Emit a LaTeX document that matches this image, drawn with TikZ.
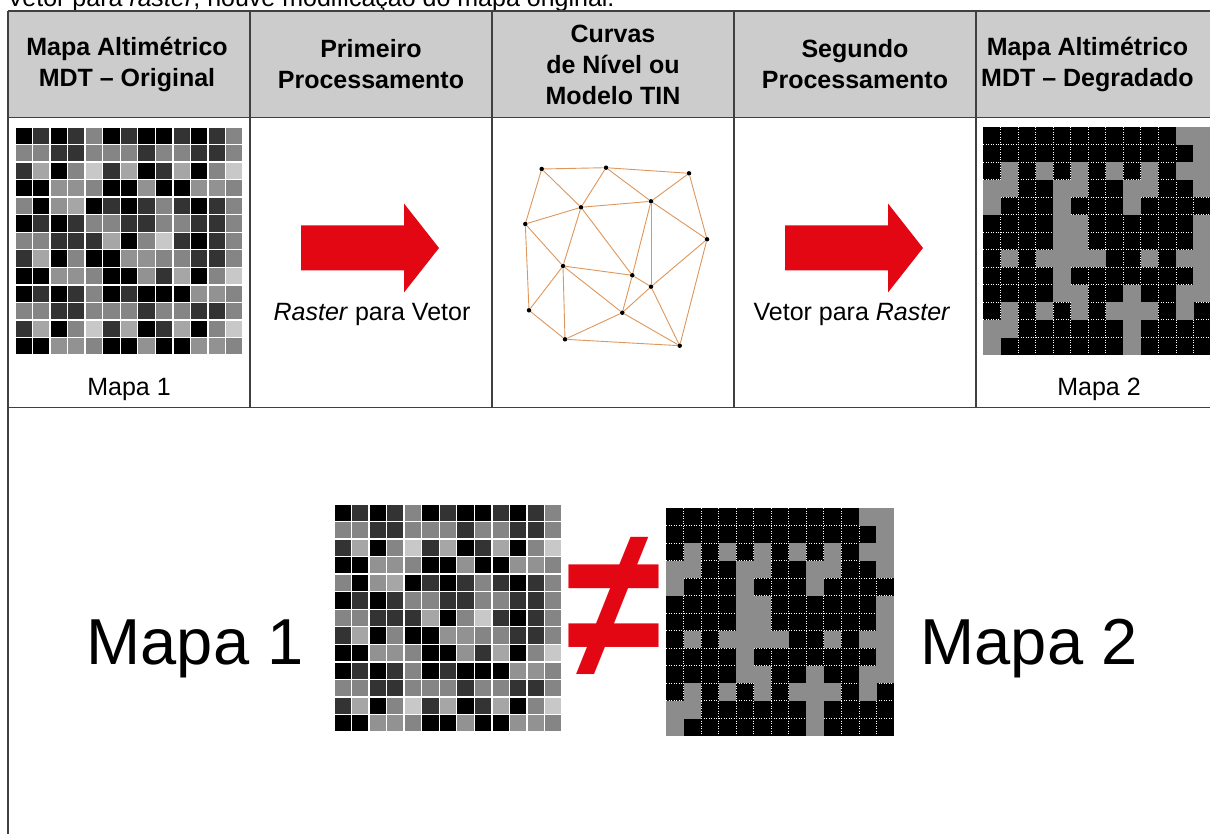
\documentclass[tikz,border=0pt]{standalone}
\usepackage{fontspec}
\setmainfont{Liberation Sans}

\definecolor{vermelho}{RGB}{227,6,19}
\definecolor{cabecalho}{RGB}{204,204,204}
\definecolor{borda}{RGB}{64,64,64}
\definecolor{aresta}{RGB}{222,150,90}
\definecolor{px0}{gray}{0}
\definecolor{px1}{RGB}{51,51,51}
\definecolor{px2}{RGB}{133,133,133}
\definecolor{px3}{RGB}{146,146,146}
\definecolor{px4}{RGB}{166,166,166}
\definecolor{px5}{RGB}{200,200,200}
\definecolor{pixcinza}{RGB}{140,140,140}

\tikzset{
  linha/.style={draw=borda, line width=1.6pt},
  cab/.style={align=center, font=\bfseries\fontsize{25}{31}\selectfont, inner sep=0pt},
  rot/.style={font=\fontsize{25}{30}\selectfont, inner sep=0pt, anchor=base},
  ponto/.style={circle, fill=black, inner sep=0pt, minimum size=4.5pt},
  tin/.style={draw=aresta, line width=0.9pt},
  seta/.style={fill=vermelho},
  pics/mapaorig/.style={code={
    \foreach \fila [count=\ii] in {{0,1,0,1,2,0,1,0,0,1,0,1,2},{2,2,1,1,2,2,2,1,2,2,1,1,2},
      {1,4,0,2,5,1,4,0,1,4,0,2,5},{0,0,3,3,2,0,0,3,0,0,3,3,2},{2,0,3,4,0,1,0,1,2,1,0,1,2},
      {0,1,0,1,2,2,1,1,2,2,1,1,2},{2,2,1,1,1,4,0,2,5,1,0,1,2},{1,4,0,2,0,0,3,3,2,2,1,1,2},
      {0,0,3,3,2,0,0,3,1,4,0,2,5},{0,1,0,1,2,0,1,0,0,0,3,3,2},{2,2,1,1,2,2,2,1,2,2,1,1,2},
      {1,4,0,2,5,1,4,0,1,4,0,2,5},{0,0,3,3,2,0,0,3,0,0,3,3,2}}
      \foreach \v [count=\jj] in \fila
        \fill[px\v] ({(\jj-1)*17.54+0.7},{(\ii-1)*17.54+0.7}) rectangle ++(16.14,16.14);
  }},
  pics/mapadeg/.style={code={
    \fill[black] (0,0) rectangle (228,228);
    \foreach \k in {1,...,12} {
      \draw[white, line width=0.9pt, dash pattern=on 1pt off 1.5pt] ({\k*17.54},0) -- ++(0,228);
      \draw[white, line width=0.9pt, dash pattern=on 1pt off 1.5pt] (0,{\k*17.54}) -- ++(228,0);
    }
    \foreach \fila [count=\ii] in {{0,0,0,0,0,0,0,0,0,0,0,1,1},{0,0,0,0,0,0,0,0,0,0,0,0,1},
      {0,1,0,1,0,1,0,1,0,1,0,1,1},{1,1,0,0,1,1,0,0,1,1,0,0,1},{1,0,0,0,1,0,0,0,1,0,0,0,0},
      {0,0,0,0,1,1,0,0,0,0,0,0,1},{0,0,0,0,1,1,0,0,0,0,0,0,1},{0,1,0,1,1,1,1,0,0,1,0,1,1},
      {0,0,0,0,1,0,0,0,0,0,0,0,1},{0,0,0,0,1,1,0,0,1,0,0,1,1},{0,1,0,1,0,1,0,1,1,1,0,1,0},
      {1,1,0,0,0,0,0,0,1,0,0,0,0},{1,0,0,0,0,0,0,0,1,0,0,0,0}}
      \foreach \v [count=\jj] in \fila {
        \ifnum\v=1 \fill[pixcinza] ({(\jj-1)*17.54},{(\ii-1)*17.54}) rectangle ++(17.6,17.6); \fi
      }
  }},
  pics/setagrande/.style={code={
    \fill[seta] (0,-22.5) -- (103,-22.5) -- (103,-44.5) -- (138,0) -- (103,44.5) -- (103,22.5) -- (0,22.5) -- cycle;
  }}
}

\begin{document}
\begin{tikzpicture}[x=1pt, y=-1pt]
  \useasboundingbox (0,0) rectangle (1210,834);
  \clip (0,0) rectangle (1210,834);

  \node[rot, anchor=base west] (txt) at (7,7) {Vetor para \textit{raster}, houve modificação do mapa original.};

  % tabela
  \fill[cabecalho] (8,11) rectangle (1220,117.5);
  \draw[linha] (8,11) -- (1220,11);
  \draw[linha] (8,117.5) -- (1220,117.5);
  \draw[linha] (8,407.5) -- (1220,407.5);
  \draw[linha] (8,11) -- (8,840);
  \foreach \x in {250,492,734,976}
    \draw[linha] (\x,11) -- (\x,407.5);

  \node[cab] (h1) at (127,64.5) {Mapa Altimétrico\\MDT – Original};
  \node[cab] (h2) at (371,64.5) {Primeiro\\Processamento};
  \node[cab] (h3) at (613,64.5) {Curvas\\de Nível ou\\Modelo TIN};
  \node[cab] (h4) at (855,64.5) {Segundo\\Processamento};
  \node[cab, anchor=west] (h5) at (981,64.5) {Mapa Altimétrico\\MDT – Degradado};

  % linha 2
  \pic at (15,127) {mapaorig};
  \node[rot] (m1) at (129,395) {Mapa 1};
  \pic at (301,248) {setagrande};
  \node[rot] (s1) at (372,320) {\textit{Raster} para Vetor};

  \node[ponto] (t1) at (541.7,169) {};
  \node[ponto] (t2) at (606,167.7) {};
  \node[ponto] (t3) at (689,173.3) {};
  \node[ponto] (t4) at (581,207.3) {};
  \node[ponto] (t5) at (651,201.3) {};
  \node[ponto] (t6) at (525.3,224) {};
  \node[ponto] (t7) at (707,239.3) {};
  \node[ponto] (t8) at (563,266) {};
  \node[ponto] (t9) at (632.3,275.3) {};
  \node[ponto] (t10) at (651,286.7) {};
  \node[ponto] (t11) at (529,310.3) {};
  \node[ponto] (t12) at (622.3,312.7) {};
  \node[ponto] (t13) at (565,339.3) {};
  \node[ponto] (t14) at (679.7,345.7) {};
  \foreach \a/\b in {1/2,2/3,1/4,2/4,2/5,3/5,3/7,4/5,1/6,4/6,4/8,4/9,5/7,5/10,5/9,6/8,6/11,
      8/9,8/11,8/13,8/12,9/10,9/12,10/7,10/12,10/14,7/14,11/13,13/12,13/14,12/14}
    \draw[tin] (t\a) -- (t\b);

  \pic at (785,248) {setagrande};
  \node[rot] (s2) at (852,320) {Vetor para \textit{Raster}};
  \pic at (983,127) {mapadeg};
  \node[rot] (m2) at (1099,395) {Mapa 2};

  % linha 3
  \node[rot, font=\fontsize{65}{70}\selectfont] (g1) at (195,664) {Mapa 1};
  \pic at (334,504) {mapaorig};
  \node[font=\bfseries\fontsize{190}{190}\selectfont, text=vermelho, inner sep=0pt,
    transform shape, xscale=0.91, yscale=1.15] (dif) at (614,608) {≠};
  \pic at (666,508) {mapadeg};
  \node[rot, font=\fontsize{65}{70}\selectfont] (g2) at (1029,664) {Mapa 2};
\end{tikzpicture}
\end{document}
